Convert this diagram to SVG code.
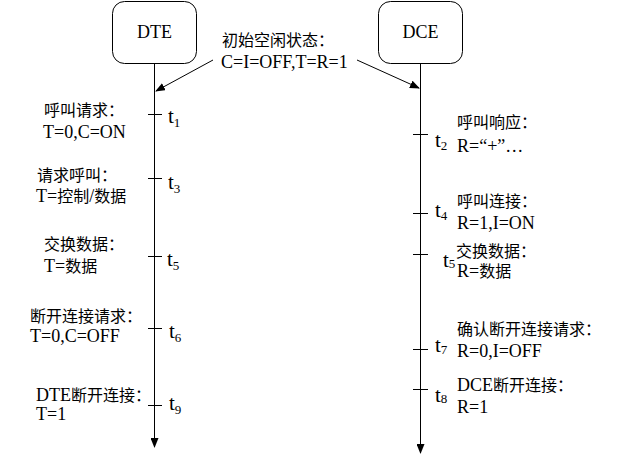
<svg xmlns="http://www.w3.org/2000/svg" width="628" height="459" viewBox="0 0 628 459">
<style>
text{font-family:"Liberation Serif","Noto Sans CJK SC",serif;font-size:18px;fill:#000}
.c{font-size:16px}
.t{font-size:21px}
.s{font-size:13px}
.box{fill:#fff;stroke:#000;stroke-width:1}
.ln{stroke:#000;stroke-width:1;fill:none}
</style>
<defs>
<marker id="ah" markerWidth="10" markerHeight="8" refX="9" refY="4" orient="auto" markerUnits="userSpaceOnUse">
<path d="M0,0 L10,4 L0,8 Z" fill="#000"/>
</marker>
</defs>
<g id="dte">
<rect class="box" x="112.500" y="1.500" width="84" height="62" rx="12"/>
<text x="154.500" y="38" text-anchor="middle">DTE</text>
</g>
<g id="dce">
<rect class="box" x="378.500" y="1.500" width="84" height="62" rx="12"/>
<text x="420.500" y="38" text-anchor="middle">DCE</text>
</g>
<g id="init">
<text x="222" y="46"><tspan class="c">初始空闲状态：</tspan></text>
<text x="221" y="68">C=I=OFF,T=R=1</text>
</g>
<g id="connectors">
<line class="ln" x1="154.500" y1="63.500" x2="154.500" y2="447" marker-end="url(#ah)"/>
<line class="ln" x1="420.500" y1="63.500" x2="420.500" y2="453" marker-end="url(#ah)"/>
<line class="ln" x1="213" y1="60" x2="156" y2="91" marker-end="url(#ah)"/>
<line class="ln" x1="357" y1="60" x2="419" y2="88" marker-end="url(#ah)"/>
<line class="ln" x1="148" y1="114.500" x2="162" y2="114.500"/>
<line class="ln" x1="148" y1="178.500" x2="162" y2="178.500"/>
<line class="ln" x1="148" y1="256.500" x2="162" y2="256.500"/>
<line class="ln" x1="148" y1="328.500" x2="162" y2="328.500"/>
<line class="ln" x1="148" y1="405.500" x2="162" y2="405.500"/>
<line class="ln" x1="413" y1="134.500" x2="428" y2="134.500"/>
<line class="ln" x1="413" y1="213.500" x2="428" y2="213.500"/>
<line class="ln" x1="413" y1="254.500" x2="428" y2="254.500"/>
<line class="ln" x1="413" y1="349.500" x2="428" y2="349.500"/>
<line class="ln" x1="413" y1="389.500" x2="428" y2="389.500"/>
</g>
<g id="tlabels">
<text class="t" x="168" y="123">t<tspan class="s" dy="4">1</tspan></text>
<text class="t" x="168" y="189">t<tspan class="s" dy="4">3</tspan></text>
<text class="t" x="167" y="266">t<tspan class="s" dy="4">5</tspan></text>
<text class="t" x="169" y="338">t<tspan class="s" dy="4">6</tspan></text>
<text class="t" x="169" y="410">t<tspan class="s" dy="4">9</tspan></text>
<text class="t" x="435" y="147">t<tspan class="s" dy="3">2</tspan></text>
<text class="t" x="435" y="217">t<tspan class="s" dy="3">4</tspan></text>
<text class="t" x="443" y="267">t<tspan class="s" dy="1">5</tspan></text>
<text class="t" x="435" y="352">t<tspan class="s" dy="2">7</tspan></text>
<text class="t" x="435" y="402">t<tspan class="s" dy="1">8</tspan></text>
</g>
<g id="t1">
<text x="44" y="116"><tspan class="c">呼叫请求：</tspan></text>
<text x="43" y="138">T=0,C=ON</text>
</g>
<g id="t3">
<text x="37" y="181"><tspan class="c">请求呼叫：</tspan></text>
<text x="36" y="202">T=<tspan class="c">控制</tspan>/<tspan class="c">数据</tspan></text>
</g>
<g id="t5l">
<text x="44" y="250"><tspan class="c">交换数据：</tspan></text>
<text x="44" y="272">T=<tspan class="c">数据</tspan></text>
</g>
<g id="t6">
<text x="30" y="322"><tspan class="c">断开连接请求：</tspan></text>
<text x="30" y="342">T=0,C=OFF</text>
</g>
<g id="t9">
<text x="36" y="401">DTE<tspan class="c">断开连接：</tspan></text>
<text x="36" y="420">T=1</text>
</g>
<g id="t2">
<text x="457" y="128"><tspan class="c">呼叫响应：</tspan></text>
<text x="457" y="152">R=“+”…</text>
</g>
<g id="t4">
<text x="457" y="207"><tspan class="c">呼叫连接：</tspan></text>
<text x="457" y="229">R=1,I=ON</text>
</g>
<g id="t5r">
<text x="456" y="257"><tspan class="c">交换数据：</tspan></text>
<text x="457" y="277">R=<tspan class="c">数据</tspan></text>
</g>
<g id="t7">
<text x="457" y="335"><tspan class="c">确认断开连接请求：</tspan></text>
<text x="457" y="357">R=0,I=OFF</text>
</g>
<g id="t8">
<text x="457" y="391">DCE<tspan class="c">断开连接：</tspan></text>
<text x="457" y="413">R=1</text>
</g>
</svg>
